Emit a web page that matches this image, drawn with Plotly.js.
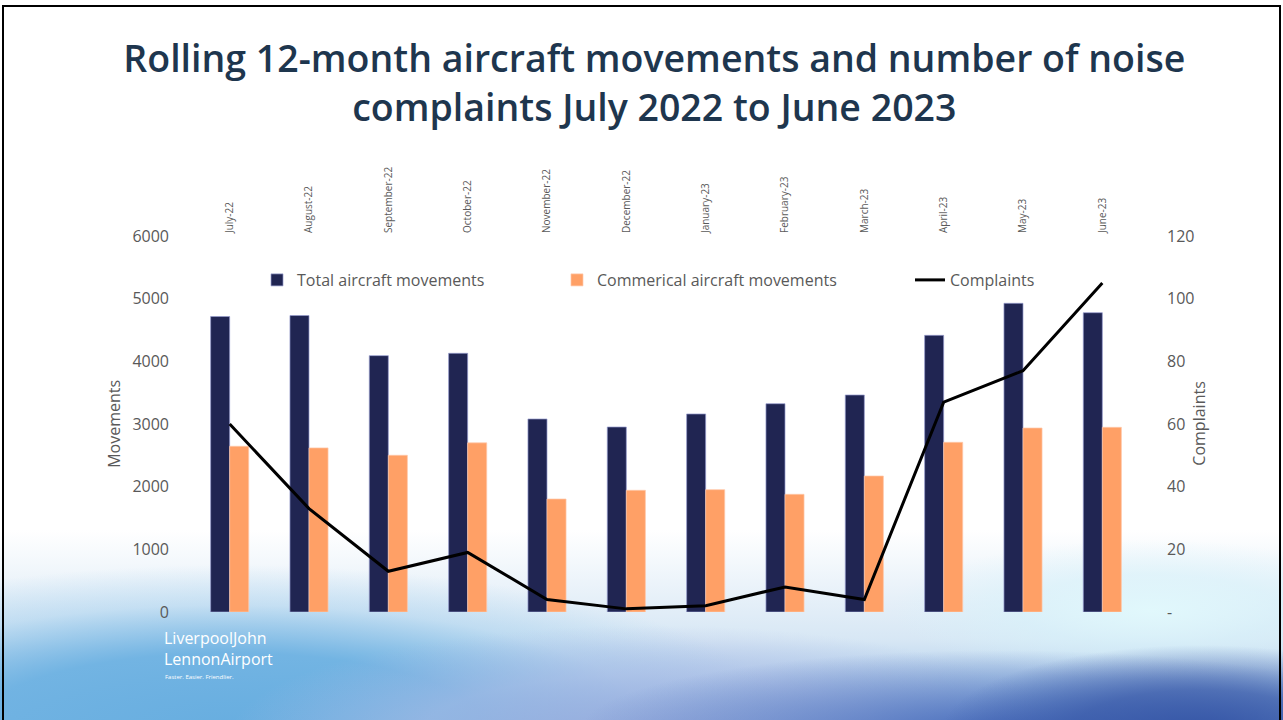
<!DOCTYPE html>
<html>
<head>
<meta charset="utf-8">
<script src="https://cdn.plot.ly/plotly-3.0.1.min.js"></script>
<style>
  html, body { margin: 0; padding: 0; width: 1283px; height: 720px; overflow: hidden; background: #ffffff; }
  #bg {
    position: absolute; left: 0; top: 0; width: 1283px; height: 720px;
    background:
      radial-gradient(ellipse 260px 90px at 1200px 735px, rgba(52,84,165,1) 0%, rgba(52,84,165,0.7) 50%, rgba(52,84,165,0) 100%),
      radial-gradient(ellipse 420px 80px at 1000px 730px, rgba(70,105,185,0.95) 0%, rgba(70,105,185,0) 100%),
      radial-gradient(ellipse 260px 70px at 1150px 610px, rgba(225,248,252,1) 0%, rgba(215,242,250,0.6) 50%, rgba(215,242,250,0) 100%),
      radial-gradient(ellipse 420px 110px at 650px 735px, rgba(150,170,220,0.95) 0%, rgba(170,185,228,0.6) 55%, rgba(190,205,235,0) 100%),
      radial-gradient(ellipse 560px 160px at 230px 725px, rgba(104,174,224,1) 0%, rgba(110,178,226,0.95) 45%, rgba(150,200,235,0.4) 75%, rgba(255,255,255,0) 100%),
      linear-gradient(to bottom, rgba(255,255,255,0) 0px, rgba(255,255,255,0) 530px, rgba(205,225,242,0.8) 640px, rgba(150,190,230,1) 720px);
  }
  #frame {
    position: absolute; left: 2px; top: 5px; width: 1279px; height: 730px;
    border: 2px solid #000; box-sizing: border-box; pointer-events: none;
  }
  #chart { position: absolute; left: 0; top: 0; width: 1283px; height: 720px; }
</style>
</head>
<body>
<div id="bg"></div>
<div id="chart"></div>
<div id="frame"></div>
<script>
// ---- Data ----
var months = ["July-22", "August-22", "September-22", "October-22", "November-22", "December-22",
              "January-23", "February-23", "March-23", "April-23", "May-23", "June-23"];
var totalMovements = [4715, 4731, 4091, 4128, 3080, 2952, 3160, 3324, 3463, 4415, 4926, 4776];
var commercialMovements = [2645, 2619, 2501, 2699, 1803, 1942, 1952, 1878, 2170, 2708, 2936, 2947];
var complaints = [60, 33, 13, 19, 4, 1, 2, 8, 4, 67, 77, 105];
var leftTicks = [0, 1000, 2000, 3000, 4000, 5000, 6000];
var rightTickVals = [0, 20, 40, 60, 80, 100, 120];
var rightTickText = ["-", "20", "40", "60", "80", "100", "120"];

var grey = "#595959";
var fontFam = "'Open Sans', 'DejaVu Sans', sans-serif";

var traces = [
  {
    type: "bar", name: "Total aircraft movements", x: months, y: totalMovements,
    marker: { color: "#202552", line: { color: "rgba(150,155,205,0.7)", width: 1 } },
    legend: "legend", hoverinfo: "x+y"
  },
  {
    type: "bar", name: "Commerical aircraft movements", x: months, y: commercialMovements,
    marker: { color: "#FFA066", line: { color: "rgba(255,200,170,0.7)", width: 1 } },
    legend: "legend2", hoverinfo: "x+y"
  },
  {
    type: "scatter", mode: "lines", name: "Complaints", x: months, y: complaints,
    yaxis: "y2", line: { color: "#000000", width: 3 },
    legend: "legend3", hoverinfo: "x+y"
  }
];

var legendBase = {
  orientation: "h", yanchor: "middle", y: 0.883, xanchor: "left",
  bgcolor: "rgba(0,0,0,0)", font: { family: fontFam, size: 16, color: grey }
};

var layout = {
  width: 1283, height: 720,
  paper_bgcolor: "rgba(0,0,0,0)", plot_bgcolor: "rgba(0,0,0,0)",
  margin: { l: 190, r: 141, t: 236, b: 108 },
  font: { family: fontFam, color: grey },
  title: {
    text: "Rolling 12-month aircraft movements and number of noise<br>complaints July 2022 to June 2023",
    font: { family: fontFam, size: 37.5, weight: 600, color: "#1e364e" },
    x: 0.51, xanchor: "center", y: 0.9, yanchor: "middle", yref: "container"
  },
  barmode: "group", bargap: 0.52, bargroupgap: 0,
  showlegend: true,
  legend: Object.assign({}, legendBase, { x: 0.0704 }),
  legend2: Object.assign({}, legendBase, { x: 0.3855 }),
  legend3: Object.assign({}, legendBase, { x: 0.7563 }),
  xaxis: {
    type: "category", side: "top", tickangle: -90,
    tickfont: { family: fontFam, size: 10, color: grey },
    showgrid: false, showline: false, zeroline: false, ticks: "", ticklabelstandoff: 2
  },
  yaxis: {
    range: [0, 6000], tickvals: leftTicks, showgrid: false, zeroline: false, showline: false,
    tickfont: { family: fontFam, size: 16, color: grey }, ticklabelstandoff: 20
  },
  yaxis2: {
    overlaying: "y", side: "right", range: [0, 120], tickvals: rightTickVals, ticktext: rightTickText,
    showgrid: false, zeroline: false, showline: false,
    tickfont: { family: fontFam, size: 16, color: grey }, ticklabelstandoff: 24
  },
  annotations: [
    { text: "Movements", textangle: -90, xref: "paper", yref: "paper", x: -0.08, y: 0.5,
      xanchor: "center", yanchor: "middle", showarrow: false, font: { family: fontFam, size: 16, color: grey } },
    { text: "Complaints", textangle: -90, xref: "paper", yref: "paper", x: 1.0595, y: 0.5,
      xanchor: "center", yanchor: "middle", showarrow: false, font: { family: fontFam, size: 16, color: grey } },
    { text: "LiverpoolJohn<br>LennonAirport", xref: "paper", yref: "paper", x: -0.0294, y: -0.098,
      xanchor: "left", yanchor: "middle", align: "left", showarrow: false,
      font: { family: fontFam, size: 16, color: "#ffffff" } },
    { text: "Faster. Easier. Friendlier.", xref: "paper", yref: "paper", x: -0.0285, y: -0.172,
      xanchor: "left", yanchor: "middle", align: "left", showarrow: false,
      font: { family: fontFam, size: 6, color: "#ffffff" } }
  ]
};

Plotly.newPlot("chart", traces, layout, { displayModeBar: false, staticPlot: true });
</script>
</body>
</html>
